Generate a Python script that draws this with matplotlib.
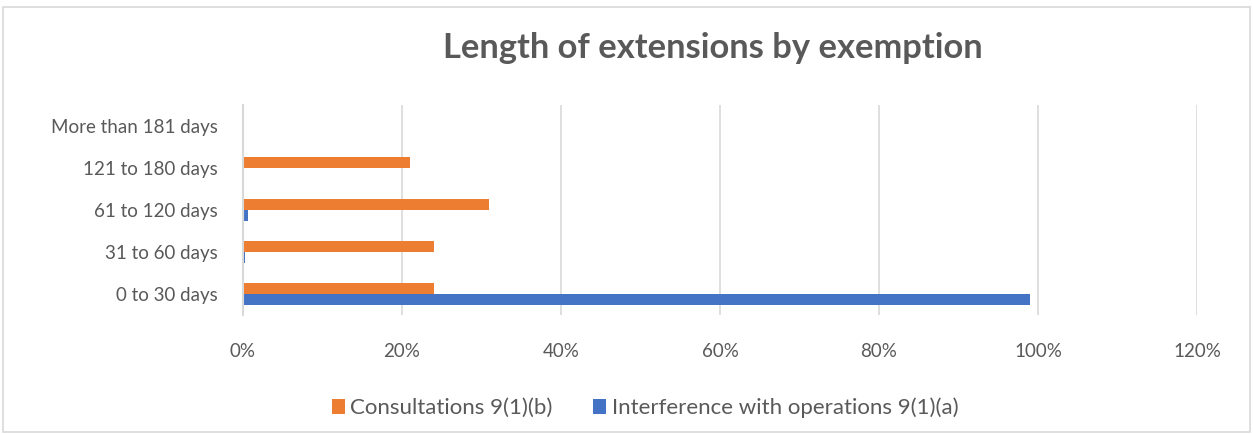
import matplotlib
matplotlib.use("Agg")
import matplotlib.pyplot as plt
import numpy as np
from matplotlib.patches import Rectangle

categories = ["0 to 30 days", "31 to 60 days", "61 to 120 days", "121 to 180 days", "More than 181 days"]
consultations = [24, 24, 31, 21, 0]          # Consultations 9(1)(b), %
interference = [99, 0.3, 0.6, 0, 0]          # Interference with operations 9(1)(a), %
xticks = [0, 20, 40, 60, 80, 100, 120]

ORANGE = "#ED7D31"
BLUE = "#4472C4"
GREY = "#595959"
GRID = "#D9D9D9"

plt.rcParams["font.family"] = ["Lato", "DejaVu Sans"]

W, H = 1253, 434
fig = plt.figure(figsize=(W / 100, H / 100), dpi=100)
ax = fig.add_axes([243 / W, 1 - 315 / H, (1197 - 243) / W, 210 / H])

y = np.arange(len(categories))
h = 0.26
ax.barh(y + h / 2, consultations, height=h, color=ORANGE, label="Consultations 9(1)(b)", zorder=3)
ax.barh(y - h / 2, interference, height=h, color=BLUE, label="Interference with operations 9(1)(a)", zorder=3)

ax.set_xlim(0, 120)
ax.set_ylim(-0.5, len(categories) - 0.5)
ax.set_xticks(xticks)
ax.set_xticklabels([f"{t}%" for t in xticks])
ax.set_yticks(y)
ax.set_yticklabels(categories)
ax.tick_params(axis="both", length=0, labelsize=13.5, colors=GREY)
ax.tick_params(axis="x", pad=20)
ax.tick_params(axis="y", pad=18)
ax.xaxis.grid(True, color=GRID, linewidth=1.2, zorder=0)
for s in ["top", "right", "bottom"]:
    ax.spines[s].set_visible(False)
ax.spines["left"].set_color(GRID)
ax.spines["left"].set_linewidth(1.5)
ax.spines["left"].set_zorder(4)

fig.text(713 / W, 1 - 48 / H, "Length of extensions by exemption", ha="center", va="center",
         fontsize=24.8, fontweight="bold", color=GREY)

handles, labels = ax.get_legend_handles_labels()
fig.legend(handles, labels, loc="center", bbox_to_anchor=(645 / W, 1 - 408 / H), ncol=2, frameon=False,
           fontsize=16, labelcolor=GREY, handlelength=0.6, handleheight=0.6, handletextpad=0.25,
           columnspacing=1.8)

# outer chart frame
fig.patches.append(Rectangle((3 / W, 2 / H), (W - 6) / W, (H - 9) / H, transform=fig.transFigure,
                             fill=False, edgecolor=GRID, linewidth=1.2))

fig.savefig("out.png", dpi=100)
